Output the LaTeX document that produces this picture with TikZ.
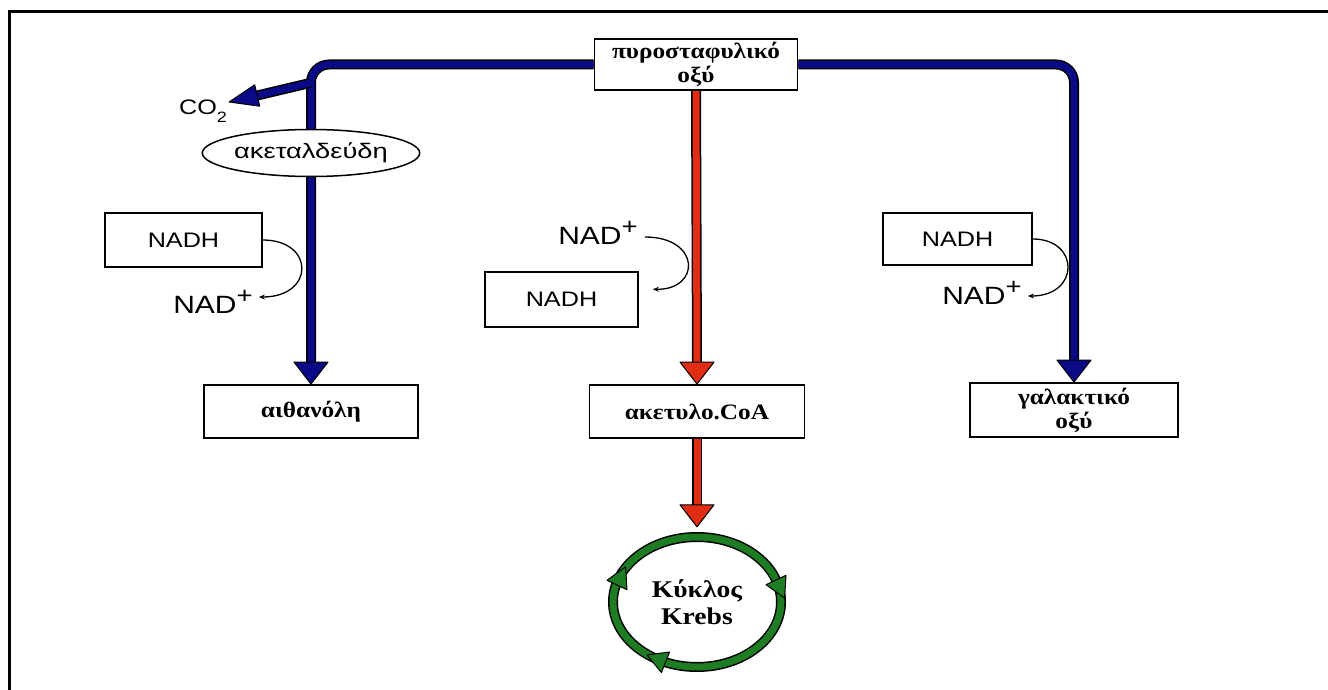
\documentclass[tikz,border=0pt]{standalone}
\usepackage{fontspec}
\setmainfont{Liberation Serif}
\newfontfamily\sfw[FakeStretch=1.2]{Liberation Sans}
\newfontfamily\sfwide[FakeStretch=1.3]{Liberation Sans}
\newfontfamily\rmw[FakeStretch=1.15]{Liberation Serif}
\usetikzlibrary{calc,shapes.geometric,arrows.meta}
\definecolor{pblue}{RGB}{10,10,135}
\definecolor{pred}{RGB}{225,45,20}
\definecolor{pgreen}{RGB}{30,125,35}
\pgfdeclarelayer{bg}
\pgfsetlayers{bg,main}
\newcommand\headdown[2]{\filldraw[fill=#1,draw=black,line width=1pt,line join=round] (#2) -- ++(-17,-22) -- ++(34,0) -- cycle;}
\newcommand\plussup{\raisebox{0.42em}{\fontsize{23}{23}\selectfont +}}
\tikzset{
  box/.style={draw=black,line width=1.8pt,fill=white,inner sep=0pt,align=center,
    font=\rmw\bfseries\fontsize{22}{24}\selectfont},
  nbox/.style={draw=black,line width=1.5pt,fill=white,inner sep=0pt,
    font=\sfw\fontsize{21}{23}\selectfont},
  nadlbl/.style={inner sep=0pt,font=\sfw\fontsize{25}{27}\selectfont},
  tube/.style={line width=7pt,preaction={draw=black,line width=10pt}},
  thinarr/.style={line width=1.3pt,-{Stealth[length=6pt,width=5pt]}},
  ghead/.style={fill=pgreen,draw=black,line width=1pt,line join=round}
}
\begin{document}
\begin{tikzpicture}[x=1pt,y=-1pt]
\useasboundingbox (0,0) rectangle (1328,690);
\draw[line width=3pt,line join=miter] (9,690) -- (9,12) -- (1328,12);

% nodes
\node[box,minimum width=203pt,minimum height=51pt] (pyr) at (696,64.5) {πυροσταφυλικό\\οξύ};
\node[box,minimum width=214pt,minimum height=53pt] (eth) at (311,411.5) {αιθανόλη};
\node[box,minimum width=215pt,minimum height=53pt] (acoa) at (697,411.5) {ακετυλο.CoA};
\node[box,minimum width=208pt,minimum height=54pt] (lac) at (1074,410) {γαλακτικό\\οξύ};
\node[ellipse,draw=black,line width=1.5pt,fill=white,minimum width=212pt,minimum height=47pt,
  inner sep=0pt,font=\sfwide\fontsize{21}{23}\selectfont] (ald) at (311,153) {ακεταλδεύδη};
\node[nbox,minimum width=157pt,minimum height=54pt] (nadh1) at (183.5,240) {NADH};
\node[nbox,minimum width=153pt,minimum height=55pt] (nadh2) at (561.5,299.5) {NADH};
\node[nbox,minimum width=149pt,minimum height=52pt] (nadh3) at (957.5,239) {NADH};
\node[nadlbl] (nad1) at (213,302) {NAD\plussup};
\node[nadlbl] (nad2) at (598,233) {NAD\plussup};
\node[nadlbl] (nad3) at (982,293) {NAD\plussup};
\node[inner sep=0pt,font=\sfw\fontsize{21}{23}\selectfont] (co2) at (203,111)
  {CO\raisebox{-0.35em}{\fontsize{15}{15}\selectfont 2}};
\node[ellipse,inner sep=0pt,minimum width=168pt,minimum height=130pt,align=center,
  font=\rmw\bfseries\fontsize{24}{27}\selectfont] (krebs) at (697,602) {Κύκλος\\Krebs};
\coordinate (co2src) at (310,83);

\begin{pgfonlayer}{bg}
% thin curved arrows
\draw[thinarr] (nadh1.east) .. controls (315,240) and (315,297) .. ($(nad1.east)+(6,-5)$);
\draw[thinarr] ($(nad2.east)+(7,4)$) .. controls (701,237) and (701,290) .. ($(nadh2.north east)+(14,18)$);
\draw[thinarr] (nadh3.east) .. controls (1080,239) and (1080,296) .. ($(nad3.east)+(6,3)$);
% blue branches
\draw[pblue,tube,rounded corners=18pt] (pyr.west) -| ($(eth.north)+(0,-21)$);
\draw[pblue,tube,rounded corners=18pt] (pyr.east) -| ($(lac.north)+(0,-21)$);
\headdown{pblue}{eth.north}
\headdown{pblue}{lac.north}
% CO2 branch
\draw[pblue,tube] (co2src) -- (257.2,95.5);
\filldraw[fill=pblue,draw=black,line width=1pt,line join=round] ($(co2.east)+(2,-9)$) -- (259.7,106.2) -- (254.7,84.8) -- cycle;
% red
\draw[pred,tube] (pyr.south) -- ($(acoa.north)+(0,-21)$);
\headdown{pred}{acoa.north}
\draw[pred,tube] (acoa.south) -- ($(krebs.north)+(0,-31)$);
\headdown{pred}{$(krebs.north)+(0,-10)$}
% Krebs ring
\draw[pgreen,tube] (krebs.center) ellipse [x radius=84pt,y radius=65pt];
\filldraw[ghead] (625.6,566.8) -- (627,589.7) -- (607,580.3) -- cycle;
\filldraw[ghead] (784.6,598) -- (786,575.3) -- (766,584.7) -- cycle;
\filldraw[ghead] (647,655) -- (669.6,652) -- (661.4,672.5) -- cycle;
\end{pgfonlayer}
\end{tikzpicture}
\end{document}
